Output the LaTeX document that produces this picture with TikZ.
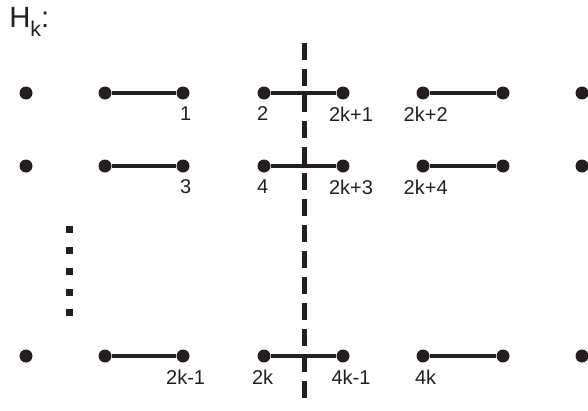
\documentclass[tikz,border=0pt]{standalone}
\usepackage{fontspec}
\setmainfont{Liberation Sans}
\usetikzlibrary{positioning}
\definecolor{ink}{RGB}{35,31,32}
\tikzset{
  vtx/.style={circle,fill=ink,inner sep=0pt,minimum size=9.75pt},
  bond/.style={draw=ink,line width=2.4pt},
  lbl/.style={text=ink,inner sep=0pt,font=\fontsize{15}{17}\selectfont},
  cut/.style={draw=ink,line width=3.75pt,dash pattern=on 12.75pt off 6.75pt},
}
\begin{document}
\begin{tikzpicture}[x=0.75pt,y=-0.75pt]
	\useasboundingbox (0,0) rectangle (588,410);
	\node[anchor=base west,inner sep=0pt,text=ink,font=\fontsize{22}{26}\selectfont] (title) at (9,28)
		{H\raisebox{-6.5pt}{\fontsize{16}{16}\selectfont k}:};
	% three rows of dots
	\foreach \r/\y in {1/93,2/166,3/356}{
		\foreach \c/\x in {1/26,2/105,3/183,4/264,5/343,6/423,7/503,8/582}
			\node[vtx] (v\r\c) at (\x,\y) {};
		\draw[bond] (v\r2) -- (v\r3);
		\draw[bond] (v\r4) -- (v\r5);
		\draw[bond] (v\r6) -- (v\r7);
	}
	% labels
	\foreach \r/\a/\b/\e/\f in {1/1/2/2k+1/2k+2,2/3/4/2k+3/2k+4,3/2k-1/2k/4k-1/4k}{
		\node[lbl,below=5pt of v\r3,xshift=2pt] (la\r) {\a};
		\node[lbl,below=5pt of v\r4,xshift=-1pt] (lb\r) {\b};
		\node[lbl,below=5pt of v\r5,xshift=6pt] (lc\r) {\e};
		\node[lbl,below=5pt of v\r6,xshift=2pt] (ld\r) {\f};
	}
	% vertical ellipsis
	\foreach \y in {229,250,271,292,312}
		\fill[ink] (69,\y) ++(-3.5,-3.5) rectangle ++(7,7);
	% cut
	\coordinate (ctop) at (304,43);
	\coordinate (cbot) at (304,403);
	\draw[cut] (ctop) -- (cbot);
\end{tikzpicture}
\end{document}
